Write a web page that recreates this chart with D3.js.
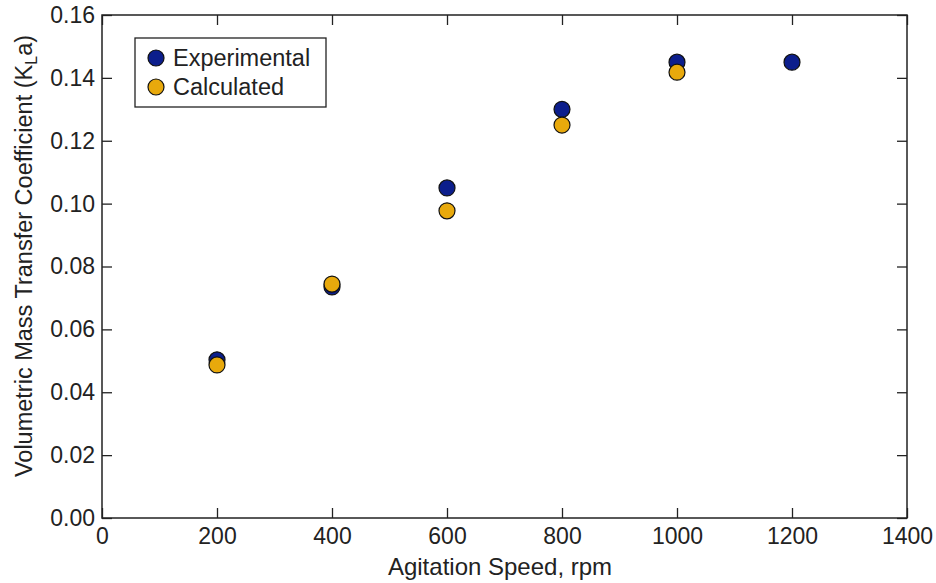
<!DOCTYPE html>
<html><head><meta charset="utf-8">
<script src="https://cdn.jsdelivr.net/npm/d3@7"></script>
<style>body{margin:0;background:#fff}svg{display:block}text{font-family:"Liberation Sans",Arial,sans-serif;fill:#222}</style>
</head><body>
<svg id="c" width="936" height="583"></svg>
<script>
const speeds = [200, 400, 600, 800, 1000, 1200];
const experimental = [0.0503, 0.0735, 0.105, 0.130, 0.145, 0.145];
const calcSpeeds = [200, 400, 600, 800, 1000];
const calculated = [0.0487, 0.0744, 0.0977, 0.125, 0.1418];
const xTicks = [0, 200, 400, 600, 800, 1000, 1200, 1400];
const yTicks = [0, 0.02, 0.04, 0.06, 0.08, 0.10, 0.12, 0.14, 0.16];
const seriesNames = ["Experimental", "Calculated"];
const colors = ["#0c1e8c", "#e8a90c"];

const svg = d3.select("#c");
const L = 102, R = 907, T = 15, B = 518;
const x = d3.scaleLinear().domain([0, 1400]).range([L, R]);
const y = d3.scaleLinear().domain([0, 0.16]).range([B, T]);
const tl = 10;
const fmt = d3.format(".2f");

function styleAxis(g){
  g.selectAll(".domain").remove();
  g.selectAll("line").attr("stroke", "#222").attr("stroke-width", 1.3);
}
svg.append("g").attr("transform", `translate(0,${B})`)
  .call(d3.axisBottom(x).tickValues(xTicks).tickSizeInner(-tl).tickSizeOuter(0).tickPadding(10).tickFormat(d3.format("d")))
  .call(styleAxis).selectAll("text").attr("font-size", 23).attr("fill", "#222");
svg.append("g").attr("transform", `translate(0,${T})`)
  .call(d3.axisTop(x).tickValues(xTicks).tickSizeInner(-tl).tickSizeOuter(0).tickFormat(""))
  .call(styleAxis);
svg.append("g").attr("transform", `translate(${L},0)`)
  .call(d3.axisLeft(y).tickValues(yTicks).tickSizeInner(-tl).tickSizeOuter(0).tickPadding(7).tickFormat(fmt))
  .call(styleAxis).selectAll("text").attr("font-size", 23).attr("fill", "#222");
svg.append("g").attr("transform", `translate(${R},0)`)
  .call(d3.axisRight(y).tickValues(yTicks).tickSizeInner(-tl).tickSizeOuter(0).tickFormat(""))
  .call(styleAxis);

svg.append("rect").attr("x", L).attr("y", T).attr("width", R - L).attr("height", B - T)
  .attr("fill", "none").attr("stroke", "#222").attr("stroke-width", 1.5);

const r = 8;
svg.append("g").selectAll("circle").data(speeds.map((s, i) => [s, experimental[i]])).join("circle")
  .attr("cx", d => x(d[0])).attr("cy", d => y(d[1])).attr("r", r)
  .attr("fill", colors[0]).attr("stroke", "#111").attr("stroke-width", 1.2);
svg.append("g").selectAll("circle").data(calcSpeeds.map((s, i) => [s, calculated[i]])).join("circle")
  .attr("cx", d => x(d[0])).attr("cy", d => y(d[1])).attr("r", r)
  .attr("fill", colors[1]).attr("stroke", "#111").attr("stroke-width", 1.2);

// legend
const lg = svg.append("g");
lg.append("rect").attr("x", 135).attr("y", 38).attr("width", 191).attr("height", 69)
  .attr("fill", "#fff").attr("stroke", "#222").attr("stroke-width", 1.3);
seriesNames.forEach((n, i) => {
  lg.append("circle").attr("cx", 156).attr("cy", 58 + i * 29).attr("r", r)
    .attr("fill", colors[i]).attr("stroke", "#111").attr("stroke-width", 1.2);
  lg.append("text").attr("x", 173).attr("y", 66 + i * 29).attr("font-size", 23.5).text(n);
});

svg.append("text").attr("x", 500).attr("y", 575).attr("text-anchor", "middle")
  .attr("font-size", 24).text("Agitation Speed, rpm");
const yl = svg.append("text").attr("transform", `translate(32,256) rotate(-90)`)
  .attr("text-anchor", "middle").attr("font-size", 23.5);
yl.append("tspan").text("Volumetric Mass Transfer Coefficient (K");
yl.append("tspan").attr("dy", 5).attr("font-size", 16).text("L");
yl.append("tspan").attr("dy", -5).text("a)");
</script>
</body></html>
